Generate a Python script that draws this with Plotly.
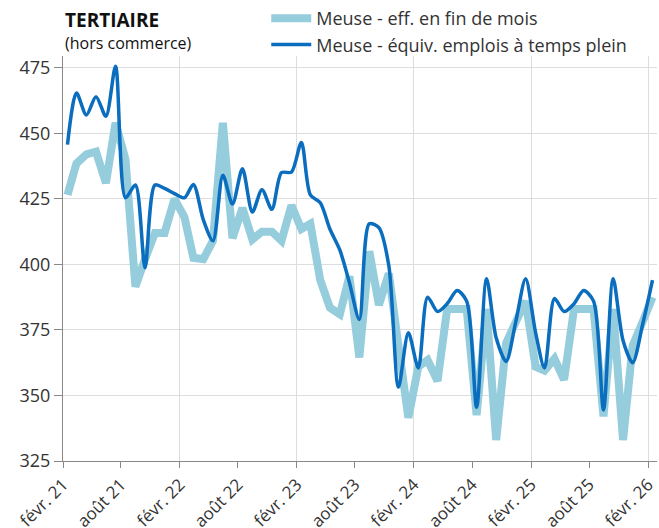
import pandas as pd
import plotly.graph_objects as go

# Monthly observations (mid-month), Feb 2021 -> Feb 2026
months = pd.date_range("2021-02-01", "2026-02-01", freq="MS") + pd.Timedelta(days=14)

eff_fin_mois = [426.5, 438.5, 442, 443, 431, 454, 440, 391.5, 402, 412, 412, 425,
                418, 402.5, 402, 409, 454, 410, 421.5, 409.5, 412.5, 412.5, 409, 422.5,
                413.5, 415.5, 394, 383.5, 381, 395.5, 364.5, 405, 384.5, 396.5, 369, 341.5,
                361, 363.5, 355.5, 383, 383, 383, 342.5, 383, 333, 370, 378, 386,
                361, 359.5, 364, 356, 383, 383, 383, 342, 383, 333, 369, 378, 387.5]

equiv_tp = [445.7, 465.4, 457, 464, 456.5, 475.6, 425.4, 430.3, 398.7, 430.3, 429, 427,
            425.4, 430.5, 417, 409, 434, 423, 436.5, 420, 428.5, 421, 435, 435.2,
            446.5, 426.5, 423.5, 413.5, 405.5, 393, 379, 415.5, 414, 399.5, 353.2, 373.9,
            360.5, 387.5, 382, 385, 390, 386, 345.5, 394.5, 372, 363, 378, 394.5,
            374, 360.5, 387, 382, 385, 390, 386, 344.5, 394.5, 371, 362.5, 377, 394]

tick_dates = pd.date_range("2021-02-01", "2026-02-01", freq="6MS")
tick_labels = ["févr. 21", "août 21", "févr. 22", "août 22", "févr. 23", "août 23",
               "févr. 24", "août 24", "févr. 25", "août 25", "févr. 26"]
y_ticks = [325, 350, 375, 400, 425, 450, 475]

FONT = "Open Sans"
TXT = "#333333"
LIGHT = "#96CDDD"
DARK = "#0A6DBE"

fig = go.Figure()
fig.add_trace(go.Scatter(x=months, y=eff_fin_mois, mode="lines",
                         name="Meuse - eff. en fin de mois",
                         line=dict(color=LIGHT, width=8)))
fig.add_trace(go.Scatter(x=months, y=equiv_tp, mode="lines",
                         name="Meuse - équiv. emplois à temps plein",
                         line=dict(color=DARK, width=3.5, shape="spline", smoothing=0.8)))

fig.update_layout(
    width=659, height=528,
    margin=dict(l=63, r=2, t=56, b=67, autoexpand=False),
    paper_bgcolor="white", plot_bgcolor="white",
    font=dict(family=FONT, size=17, color=TXT),
    showlegend=True,
    legend=dict(xref="container", yref="container", x=0.404, y=1.0,
                xanchor="left", yanchor="top",
                font=dict(family=FONT, size=18, color=TXT),
                bgcolor="rgba(0,0,0,0)", tracegroupgap=0, itemwidth=40),
    xaxis=dict(
        type="date", automargin=False,
        range=["2021-02-01", "2026-03-01"],
        tickvals=list(tick_dates), ticktext=tick_labels,
        tickangle=-45, ticks="outside", ticklen=6, tickcolor="#888888",
        showgrid=False, showline=True, linecolor="#888888", linewidth=1,
        tickfont=dict(family=FONT, size=17, color=TXT),
        minor=dict(dtick="M12", tick0="2021-02-01", showgrid=True,
                   gridcolor="#DDDDDD", gridwidth=1, ticks=""),
        zeroline=False,
    ),
    yaxis=dict(
        automargin=False,
        range=[325, 479.5],
        tickvals=y_ticks,
        ticks="outside", ticklen=8, tickcolor="#888888",
        showgrid=True, gridcolor="#DDDDDD", gridwidth=1,
        showline=True, linecolor="#888888", linewidth=1,
        tickfont=dict(family=FONT, size=18, color=TXT),
        zeroline=False,
    ),
    annotations=[
        dict(text="<b>TERTIAIRE</b>", xref="paper", yref="paper", x=0, y=1.089,
             xanchor="left", yanchor="middle", showarrow=False,
             font=dict(family=FONT, size=19, color="#111111")),
        dict(text="(hors commerce)", xref="paper", yref="paper", x=0, y=1.032,
             xanchor="left", yanchor="middle", showarrow=False,
             font=dict(family=FONT, size=16, color="#111111")),
    ],
)

fig.write_html("out.html", config={"displayModeBar": False},
               post_script="document.body.style.margin='0px';")
